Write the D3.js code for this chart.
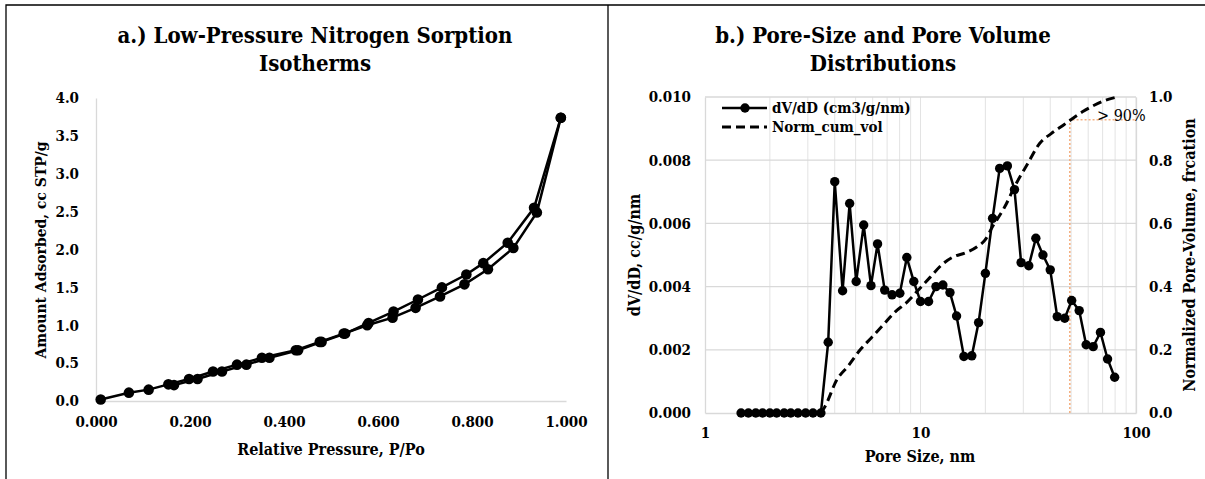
<html>
<head>
	<meta charset="utf-8">
	<script src="https://d3js.org/d3.v7.min.js"></script>
	<style>
		body { margin: 0; background: #fff; }
		text { font-family: "DejaVu Serif Condensed", "DejaVu Serif", serif; font-stretch: condensed; font-weight: bold; fill: #000; }
	</style>
</head>
<body>
	<script type="text/javascript">
		// isotherm (left) data, relative pressure vs amount adsorbed
		var adsP = [0.010, 0.070, 0.112, 0.154, 0.198, 0.249, 0.300, 0.353, 0.425, 0.476, 0.527, 0.577, 0.631, 0.680, 0.732, 0.784, 0.834, 0.888, 0.938, 0.989]
		var adsV = [0.02, 0.11, 0.15, 0.22, 0.29, 0.39, 0.48, 0.57, 0.67, 0.78, 0.89, 1.00, 1.10, 1.23, 1.38, 1.54, 1.74, 2.02, 2.49, 3.74]
		var desP = [0.989, 0.932, 0.876, 0.824, 0.788, 0.736, 0.685, 0.633, 0.580, 0.530, 0.480, 0.430, 0.369, 0.320, 0.268, 0.216, 0.166]
		var desV = [3.74, 2.55, 2.09, 1.82, 1.67, 1.50, 1.34, 1.18, 1.03, 0.89, 0.78, 0.67, 0.57, 0.48, 0.39, 0.29, 0.21]

		// pore size distribution (right) data
		var poreD = [1.47, 1.59, 1.72, 1.85, 2.00, 2.15, 2.33, 2.50, 2.70, 2.93, 3.17, 3.45,
			3.73, 4.00, 4.35, 4.69, 5.03, 5.45, 5.89, 6.32, 6.82, 7.38, 8.02, 8.64, 9.31,
			10.0, 10.9, 11.8, 12.7, 13.7, 14.7, 15.9, 17.3, 18.6, 20.0, 21.6, 23.3, 25.3,
			27.3, 29.3, 31.8, 34.3, 37.0, 40.0, 43.1, 46.7, 50.3, 54.5, 58.7, 63.3, 68.4, 73.8, 79.6]
		var dVdD = [0, 0, 0, 0, 0, 0, 0, 0, 0, 0, 0, 0,
			0.00224, 0.00732, 0.00387, 0.00663, 0.00416, 0.00595, 0.00403, 0.00535, 0.00389, 0.00374, 0.00379, 0.00492, 0.00416,
			0.00353, 0.00353, 0.00400, 0.00405, 0.00381, 0.00307, 0.00179, 0.00181, 0.00286, 0.00442, 0.00616, 0.00774, 0.00782,
			0.00707, 0.00476, 0.00466, 0.00553, 0.00500, 0.00453, 0.00305, 0.00300, 0.00356, 0.00324, 0.00216, 0.00210, 0.00255, 0.00171, 0.00113]
		var cumD = [3.45, 3.6, 4.09, 4.63, 5.25, 5.95, 6.74, 7.63, 8.64, 9.8, 11.1, 12.6, 14.3, 16.2, 18.3, 19.9, 21.6, 24.5, 27.8, 31.5, 35.7, 40.4, 45.8, 49.8, 56.4, 64.0, 72.4, 82.0]
		var cumV = [0.0, 0.02, 0.105, 0.15, 0.20, 0.24, 0.28, 0.32, 0.35, 0.39, 0.43, 0.47, 0.495, 0.507, 0.526, 0.547, 0.59, 0.65, 0.726, 0.79, 0.853, 0.884, 0.91, 0.928, 0.953, 0.974, 0.99, 1.0]
		var cutD = 49.3
		var cutV = 0.928

		var seriesNames = ["dV/dD (cm3/g/nm)", "Norm_cum_vol"]

		var width = 1205
		var height = 479
		var svg = d3.select("body").append("svg")
			.attr("width", width)
			.attr("height", height)

		// panel frames
		svg.append("path").attr("d", "M6,479V5H1205").attr("fill", "none").attr("stroke", "#000").attr("stroke-width", 1.3)
		svg.append("line").attr("x1", 608).attr("x2", 608).attr("y1", 5).attr("y2", 479).attr("stroke", "#000").attr("stroke-width", 1.3)

		// ---------- a.) isotherms ----------
		var xa = d3.scaleLinear().domain([0, 1]).range([96, 566])
		var ya = d3.scaleLinear().domain([0, 4]).range([401, 98])
		var ga = svg.append("g")

		ga.append("g").attr("transform", "translate(0,401)")
			.call(d3.axisBottom(xa).tickValues(d3.range(0, 1.01, 0.2)).tickFormat(d3.format(".3f")).tickSize(0).tickPadding(15))
		ga.append("g").attr("transform", "translate(96,0)")
			.call(d3.axisLeft(ya).tickValues(d3.range(0, 4.01, 0.5)).tickFormat(d3.format(".1f")).tickSize(0).tickPadding(17))
		ga.selectAll(".domain").attr("stroke", "#d9d9d9").attr("stroke-width", 1.3)
		ga.selectAll(".tick text").style("font-size", "15px")

		var lineA = d3.line().x(d => xa(d[0])).y(d => ya(d[1]))
		var ads = adsP.map((p, i) => [p, adsV[i]])
		var des = desP.map((p, i) => [p, desV[i]])
		;[ads, des].forEach(function(s) {
			ga.append("path").attr("d", lineA(s)).attr("fill", "none").attr("stroke", "#000").attr("stroke-width", 2.5)
			ga.selectAll(null).data(s).enter().append("circle")
				.attr("cx", d => xa(d[0])).attr("cy", d => ya(d[1])).attr("r", 5.3).attr("fill", "#000")
		})

		ga.append("text").attr("x", 315).attr("y", 43).attr("text-anchor", "middle").style("font-size", "22px").text("a.) Low-Pressure Nitrogen Sorption")
		ga.append("text").attr("x", 315).attr("y", 71).attr("text-anchor", "middle").style("font-size", "22px").text("Isotherms")
		ga.append("text").attr("x", 331).attr("y", 455).attr("text-anchor", "middle").style("font-size", "16px").text("Relative Pressure, P/Po")
		ga.append("text").attr("transform", "translate(46,250) rotate(-90)").attr("text-anchor", "middle").style("font-size", "15.5px").text("Amount Adsorbed, cc STP/g")

		// ---------- b.) pore size ----------
		var xb = d3.scaleLog().domain([1, 100]).range([705, 1136])
		var yb = d3.scaleLinear().domain([0, 0.01]).range([413, 97])
		var yb2 = d3.scaleLinear().domain([0, 1]).range([413, 97])
		var gb = svg.append("g")

		var minor = []
		;[1, 10].forEach(function(m) { for (var k = 2; k <= 9; k++) minor.push(k * m) })
		gb.selectAll(null).data(minor.concat([10, 100])).enter().append("line")
			.attr("x1", d => xb(d)).attr("x2", d => xb(d)).attr("y1", 97).attr("y2", 413)
			.attr("stroke", "#e3e3e3").attr("stroke-width", 1)
		gb.selectAll(null).data(d3.range(0.002, 0.0101, 0.002)).enter().append("line")
			.attr("x1", 705).attr("x2", 1136).attr("y1", d => yb(d)).attr("y2", d => yb(d))
			.attr("stroke", "#d9d9d9").attr("stroke-width", 1.3)

		gb.append("g").attr("transform", "translate(0,413)")
			.call(d3.axisBottom(xb).tickValues([1, 10, 100]).tickFormat(d3.format("d")).tickSize(0).tickPadding(14))
		gb.append("g").attr("transform", "translate(705,0)")
			.call(d3.axisLeft(yb).tickValues(d3.range(0, 0.0101, 0.002)).tickFormat(d3.format(".3f")).tickSize(0).tickPadding(14))
		gb.append("g").attr("transform", "translate(1136,0)")
			.call(d3.axisRight(yb2).tickValues(d3.range(0, 1.01, 0.2)).tickFormat(d3.format(".1f")).tickSize(0).tickPadding(13))
		gb.selectAll(".domain").attr("stroke", "#d9d9d9").attr("stroke-width", 1.3)
		gb.selectAll(".tick text").style("font-size", "15px")

		// >90% marker
		gb.append("path")
			.attr("d", "M" + xb(cutD) + "," + yb2(0) + "V" + yb2(cutV) + "H" + xb(100))
			.attr("fill", "none").attr("stroke", "#f4b183").attr("stroke-width", 1.6).attr("stroke-dasharray", "2,2")
		gb.append("text").attr("x", 1097).attr("y", 121).style("font-size", "16px").style("font-weight", "normal").text("> 90%")

		var psd = poreD.map((d, i) => [d, dVdD[i]])
		var cum = cumD.map((d, i) => [d, cumV[i]])
		gb.append("path").attr("d", d3.line().x(d => xb(d[0])).y(d => yb2(d[1])).curve(d3.curveMonotoneX)(cum))
			.attr("fill", "none").attr("stroke", "#000").attr("stroke-width", 3).attr("stroke-dasharray", "9,5")
		gb.append("path").attr("d", d3.line().x(d => xb(d[0])).y(d => yb(d[1]))(psd))
			.attr("fill", "none").attr("stroke", "#000").attr("stroke-width", 2.5)
		gb.selectAll(null).data(psd).enter().append("circle")
			.attr("cx", d => xb(d[0])).attr("cy", d => yb(d[1])).attr("r", 4.7).attr("fill", "#000")

		// legend
		var lg = gb.append("g").attr("transform", "translate(722,108)")
		lg.append("line").attr("x1", 0).attr("x2", 45).attr("y1", 0).attr("y2", 0).attr("stroke", "#000").attr("stroke-width", 2.5)
		lg.append("circle").attr("cx", 23).attr("cy", 0).attr("r", 4.7).attr("fill", "#000")
		lg.append("line").attr("x1", 0).attr("x2", 45).attr("y1", 19).attr("y2", 19).attr("stroke", "#000").attr("stroke-width", 3).attr("stroke-dasharray", "9,5")
		lg.selectAll(null).data(seriesNames).enter().append("text")
			.attr("x", 50).attr("y", (d, i) => i * 19 + 5).style("font-size", "15px").text(d => d)

		gb.append("text").attr("x", 883).attr("y", 43).attr("text-anchor", "middle").style("font-size", "22px").text("b.) Pore-Size and Pore Volume")
		gb.append("text").attr("x", 883).attr("y", 71).attr("text-anchor", "middle").style("font-size", "22px").text("Distributions")
		gb.append("text").attr("x", 920).attr("y", 462).attr("text-anchor", "middle").style("font-size", "16px").text("Pore Size, nm")
		gb.append("text").attr("transform", "translate(640,255) rotate(-90)").attr("text-anchor", "middle").style("font-size", "16px").text("dV/dD, cc/g/nm")
		gb.append("text").attr("transform", "translate(1195,255) rotate(-90)").attr("text-anchor", "middle").style("font-size", "16px").text("Normalized Pore-Volume, frcation")
	</script>
</body>
</html>
